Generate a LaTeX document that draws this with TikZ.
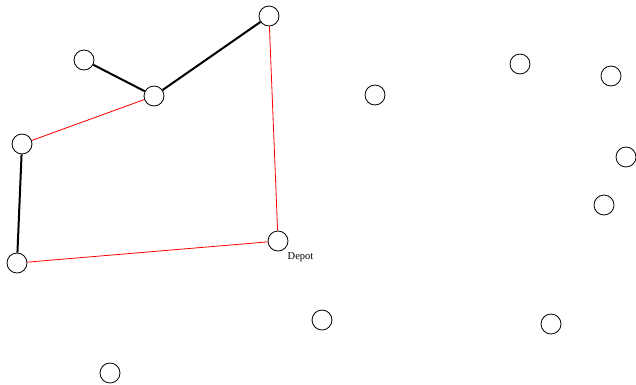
\documentclass[tikz,border=0pt]{standalone}
\usepackage{fontspec}
\setmainfont{Liberation Serif}
\begin{document}
\begin{tikzpicture}[x=1pt,y=-1pt,
  city/.style={circle,draw=black,line width=0.8pt,minimum size=20pt,inner sep=0pt,fill=white},
  tour/.style={black,line width=2pt},
  link/.style={red,line width=0.8pt},
  lbl/.style={font=\fontsize{10.5}{12}\selectfont,anchor=base west,inner sep=0pt}]
\useasboundingbox (0,0) rectangle (636,384);
\node[city] (a) at (84,60) {};
\node[city] (b) at (154,96) {};
\node[city] (c) at (269,16) {};
\node[city] (d) at (375,95) {};
\node[city] (e) at (520,64) {};
\node[city] (f) at (611,76) {};
\node[city] (g) at (22,144) {};
\node[city] (h) at (626,157) {};
\node[city] (i) at (604,205) {};
\node[city] (depot) at (278,241) {};
\node[city] (j) at (17,263) {};
\node[city] (k) at (322,320) {};
\node[city] (l) at (551,324) {};
\node[city] (m) at (110,373) {};
\node[lbl] (dl) at (287.5,259) {Depot};
\draw[tour] (a) -- (b);
\draw[tour] (b) -- (c);
\draw[tour] (g) -- (j);
\draw[link] (b) -- (g);
\draw[link] (c) -- (depot);
\draw[link] (j) -- (depot);
\end{tikzpicture}
\end{document}
